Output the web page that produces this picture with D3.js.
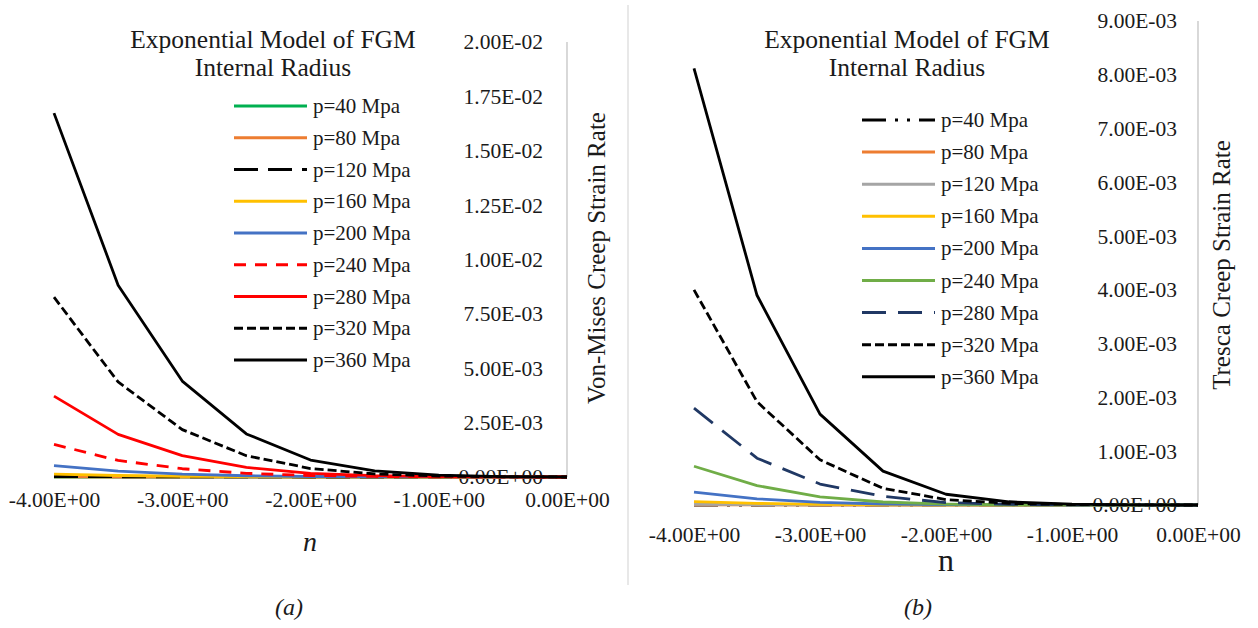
<!DOCTYPE html>
<html>
<head>
<meta charset="utf-8">
<script src="https://cdn.jsdelivr.net/npm/d3@7/dist/d3.min.js"></script>
<style>
  html, body { margin: 0; padding: 0; background: #fff; }
  svg { display: block; font-family: "Liberation Serif", "Times New Roman", serif; }
</style>
</head>
<body>
<svg id="chart" width="1258" height="628"></svg>
<script>
// Power-law index n
const nValues = [-4, -3.5, -3, -2.5, -2, -1.5, -1, -0.5, 0];
const nTicks = [-4, -3, -2, -1, 0];
const pressureLabels = ["p=40 Mpa", "p=80 Mpa", "p=120 Mpa", "p=160 Mpa", "p=200 Mpa",
                        "p=240 Mpa", "p=280 Mpa", "p=320 Mpa", "p=360 Mpa"];

// Von-Mises creep strain rate (x 1e-3)
const vm40  = [0.00003, 0.000016, 0.000008, 0.000004, 0.0000015, 0.0000005, 0.0000002, 0, 0];
const vm80  = [0.0020, 0.0011, 0.00053, 0.00024, 0.0001, 0.00003, 0.00001, 0, 0];
const vm120 = [0.023, 0.012, 0.006, 0.0027, 0.0011, 0.0004, 0.00012, 0.00003, 0];
const vm160 = [0.129, 0.068, 0.034, 0.015, 0.006, 0.0022, 0.0007, 0.00015, 0];
const vm200 = [0.52, 0.27, 0.13, 0.058, 0.023, 0.0083, 0.0026, 0.0006, 0];
const vm240 = [1.50, 0.76, 0.38, 0.17, 0.068, 0.025, 0.008, 0.002, 0];
const vm280 = [3.72, 1.96, 0.98, 0.44, 0.17, 0.062, 0.02, 0.004, 0];
const vm320 = [8.27, 4.37, 2.18, 0.98, 0.39, 0.14, 0.045, 0.01, 0];
const vm360 = [16.73, 8.82, 4.41, 1.98, 0.78, 0.28, 0.09, 0.02, 0];

// Tresca creep strain rate (x 1e-3)
const tr40  = [0.00003, 0.000015, 0.000006, 0.000002, 0.0000007, 0.0000002, 0, 0, 0];
const tr80  = [0.0010, 0.0005, 0.0002, 0.00008, 0.00002, 0.000006, 0, 0, 0];
const tr120 = [0.011, 0.0053, 0.0023, 0.0009, 0.0003, 0.0001, 0.00002, 0, 0];
const tr160 = [0.063, 0.030, 0.013, 0.0049, 0.0015, 0.00046, 0.0001, 0.00002, 0];
const tr200 = [0.24, 0.115, 0.050, 0.019, 0.006, 0.0018, 0.0004, 0.0001, 0];
const tr240 = [0.72, 0.36, 0.15, 0.056, 0.018, 0.005, 0.0013, 0.0003, 0];
const tr280 = [1.80, 0.87, 0.39, 0.16, 0.045, 0.013, 0.003, 0.0007, 0];
const tr320 = [4.00, 1.92, 0.84, 0.31, 0.10, 0.03, 0.007, 0.0015, 0];
const tr360 = [8.12, 3.90, 1.69, 0.63, 0.20, 0.06, 0.015, 0.003, 0];

const vmTicks = [0, 0.0025, 0.005, 0.0075, 0.01, 0.0125, 0.015, 0.0175, 0.02];
const trTicks = [0, 0.001, 0.002, 0.003, 0.004, 0.005, 0.006, 0.007, 0.008, 0.009];

// Excel-style scientific label, e.g. 2.50E-03
function sci(v) {
  const s = v.toExponential(2);
  const [m, e] = s.split("e");
  const sign = e[0] === "-" ? "-" : "+";
  const digits = e.replace(/[+-]/, "").padStart(2, "0");
  return m + "E" + sign + digits;
}

const svg = d3.select("#chart");
svg.append("rect").attr("width", 1258).attr("height", 628).attr("fill", "#fff");

// thin divider between the two panels
svg.append("line")
  .attr("x1", 628).attr("x2", 628).attr("y1", 5).attr("y2", 585)
  .attr("stroke", "#d9d9d9").attr("stroke-width", 1.2);

function drawPanel(cfg) {
  const g = svg.append("g");
  const x = d3.scaleLinear().domain([-4, 0]).range(cfg.xRange);
  const y = d3.scaleLinear().domain([0, cfg.yMax]).range(cfg.yRange);

  // value axis: gray line on the right, labels inside the plot
  g.append("line")
    .attr("x1", cfg.xRange[1]).attr("x2", cfg.xRange[1])
    .attr("y1", cfg.yRange[1]).attr("y2", cfg.yRange[0])
    .attr("stroke", "#bfbfbf").attr("stroke-width", 1.2);
  g.append("line")
    .attr("x1", cfg.xRange[0]).attr("x2", cfg.xRange[1])
    .attr("y1", cfg.yRange[0]).attr("y2", cfg.yRange[0])
    .attr("stroke", "#bfbfbf").attr("stroke-width", 1.2);

  const yAxis = g.append("g")
    .attr("transform", `translate(${cfg.xRange[1]},0)`)
    .call(d3.axisLeft(y).tickValues(cfg.yTicks).tickSize(0).tickPadding(cfg.yPad).tickFormat(sci));
  yAxis.select(".domain").remove();
  yAxis.selectAll("text")
    .attr("font-size", 21.5).attr("fill", "#1a1a1a")
    .attr("font-family", "Liberation Serif, serif");

  const xAxis = g.append("g")
    .attr("transform", `translate(0,${cfg.yRange[0]})`)
    .call(d3.axisBottom(x).tickValues(nTicks).tickSize(0).tickPadding(cfg.xPad).tickFormat(sci));
  xAxis.select(".domain").remove();
  xAxis.selectAll("text")
    .attr("font-size", 21.5).attr("fill", "#1a1a1a")
    .attr("font-family", "Liberation Serif, serif");

  // series
  const line = d3.line().x((d, i) => x(nValues[i])).y(d => y(d * 1e-3));
  cfg.series.forEach(s => {
    g.append("path")
      .datum(s.values)
      .attr("d", line)
      .attr("fill", "none")
      .attr("stroke", s.color)
      .attr("stroke-width", 2.8)
      .attr("stroke-linejoin", "round")
      .attr("stroke-dasharray", s.dash || null);
  });

  // title
  const title = g.append("text")
    .attr("text-anchor", "middle")
    .attr("font-size", 25.5).attr("fill", "#1a1a1a");
  title.append("tspan").attr("x", cfg.titleX).attr("y", cfg.titleY).text("Exponential Model of FGM");
  title.append("tspan").attr("x", cfg.titleX).attr("y", cfg.titleY + 28).text("Internal Radius");

  // legend
  const lg = g.append("g");
  cfg.series.forEach((s, i) => {
    const ry = cfg.legendY + i * cfg.legendStep;
    lg.append("line")
      .attr("x1", cfg.legendX).attr("x2", cfg.legendX + 73)
      .attr("y1", ry).attr("y2", ry)
      .attr("stroke", s.color).attr("stroke-width", 3)
      .attr("stroke-dasharray", s.dash || null);
    lg.append("text")
      .attr("x", cfg.legendX + 79).attr("y", ry + 7)
      .attr("font-size", 21).attr("fill", "#1a1a1a")
      .text(s.name);
  });

  // axis titles
  g.append("text")
    .attr("transform", `translate(${cfg.yTitleX},${cfg.yTitleY}) rotate(-90)`)
    .attr("text-anchor", "middle")
    .attr("font-size", 25).attr("fill", "#1a1a1a")
    .text(cfg.yTitle);
  g.append("text")
    .attr("x", cfg.nX).attr("y", cfg.nY)
    .attr("text-anchor", "middle")
    .attr("font-size", cfg.nSize)
    .attr("font-style", cfg.nItalic ? "italic" : "normal")
    .attr("fill", "#1a1a1a")
    .text("n");
  g.append("text")
    .attr("x", cfg.capX).attr("y", 615)
    .attr("text-anchor", "middle")
    .attr("font-size", 24).attr("font-style", "italic").attr("fill", "#1a1a1a")
    .text(cfg.caption);
}

const vmSeries = [vm40, vm80, vm120, vm160, vm200, vm240, vm280, vm320, vm360];
const vmStyles = [
  { color: "#00b050" },
  { color: "#ed7d31" },
  { color: "#000000", dash: "24,10" },
  { color: "#ffc000" },
  { color: "#4472c4" },
  { color: "#ff0000", dash: "12,9" },
  { color: "#ff0000" },
  { color: "#000000", dash: "9,4" },
  { color: "#000000" }
];
const trSeries = [tr40, tr80, tr120, tr160, tr200, tr240, tr280, tr320, tr360];
const trStyles = [
  { color: "#000000", dash: "24,9,3,9,3,9" },
  { color: "#ed7d31" },
  { color: "#a5a5a5" },
  { color: "#ffc000" },
  { color: "#4472c4" },
  { color: "#70ad47" },
  { color: "#203864", dash: "24,12" },
  { color: "#000000", dash: "9,4" },
  { color: "#000000" }
];

drawPanel({
  xRange: [54, 567], yRange: [477, 42], yMax: 0.02, yTicks: vmTicks, yPad: 24, xPad: 15,
  series: vmSeries.map((v, i) => ({ name: pressureLabels[i], values: v, ...vmStyles[i] })),
  titleX: 273, titleY: 48,
  legendX: 234, legendY: 106, legendStep: 31.75,
  yTitle: "Von-Mises Creep Strain Rate", yTitleX: 605, yTitleY: 258,
  nX: 310, nY: 551, nSize: 28, nItalic: true,
  capX: 289, caption: "(a)"
});

drawPanel({
  xRange: [694, 1198], yRange: [505, 21], yMax: 0.009, yTicks: trTicks, yPad: 21, xPad: 22,
  series: trSeries.map((v, i) => ({ name: pressureLabels[i], values: v, ...trStyles[i] })),
  titleX: 907, titleY: 48,
  legendX: 862, legendY: 120, legendStep: 32.1,
  yTitle: "Tresca Creep Strain Rate", yTitleX: 1230, yTitleY: 265,
  nX: 946, nY: 571, nSize: 32, nItalic: false,
  capX: 918, caption: "(b)"
});
</script>
</body>
</html>
